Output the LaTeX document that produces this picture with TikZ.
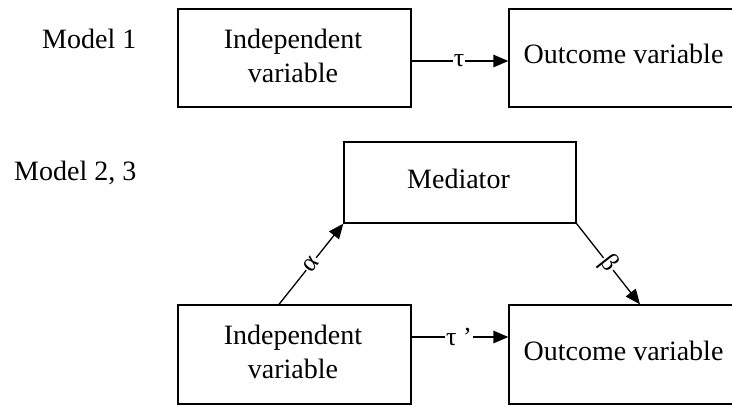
\documentclass[tikz,border=0pt]{standalone}
\usepackage{fontspec}
\setmainfont{Liberation Serif}
\usetikzlibrary{arrows.meta}
\begin{document}
\begin{tikzpicture}[x=1pt,y=-1pt,
  box/.style={draw, line width=1.3pt, inner sep=0pt},
  txt/.style={inner sep=0pt, align=center, font=\fontsize{28}{34}\selectfont},
  arr/.style={line width=1.3pt, -{Triangle[length=15pt,width=12.5pt]}},
  lbl/.style={fill=white, inner sep=1pt, font=\fontsize{26}{30}\selectfont}]
\useasboundingbox (0,0) rectangle (732,405);
\clip (0,0) rectangle (732,405);
% labels
\node[txt, anchor=base west] (m1) at (42,48) {Model 1};
\node[txt, anchor=base west] (m2) at (14,180) {Model 2, 3};
% model 1
\node[box, minimum width=233pt, minimum height=98pt] (i1) at (294.5,58) {};
\node[txt] (ti1) at (293,55.5) {Independent\\variable};
\node[box, minimum width=251pt, minimum height=98pt] (o1) at (634.5,58) {};
\node[txt, anchor=base] (t1) at (623.5,63) {Outcome variable};
% model 2
\node[box, minimum width=232pt, minimum height=81pt] (m) at (460,182.5) {};
\node[txt, anchor=base] (tm) at (458.5,188) {Mediator};
\node[box, minimum width=233pt, minimum height=99pt] (i2) at (294.5,354.5) {};
\node[txt] (ti2) at (293,351.5) {Independent\\variable};
\node[box, minimum width=251pt, minimum height=99pt] (o2) at (634.5,354.5) {};
\node[txt, anchor=base] (t2) at (623.5,360) {Outcome variable};
% connectors
\coordinate (r1) at (0,61);
\coordinate (r2) at (0,337);
\coordinate (ax) at (279,0);
\coordinate (bx) at (640,0);
\draw[arr] (i1.east |- r1) -- node[lbl, pos=0.49] {τ} (o1.west |- r1);
\draw[arr] (i2.east |- r2) -- node[lbl, pos=0.49] {τ ’} (o2.west |- r2);
\draw[arr] (i2.north -| ax) -- node[lbl, sloped] {α} (m.south west);
\draw[arr] (m.south east) -- node[lbl, sloped] {β} (o2.north -| bx);
\end{tikzpicture}
\end{document}
